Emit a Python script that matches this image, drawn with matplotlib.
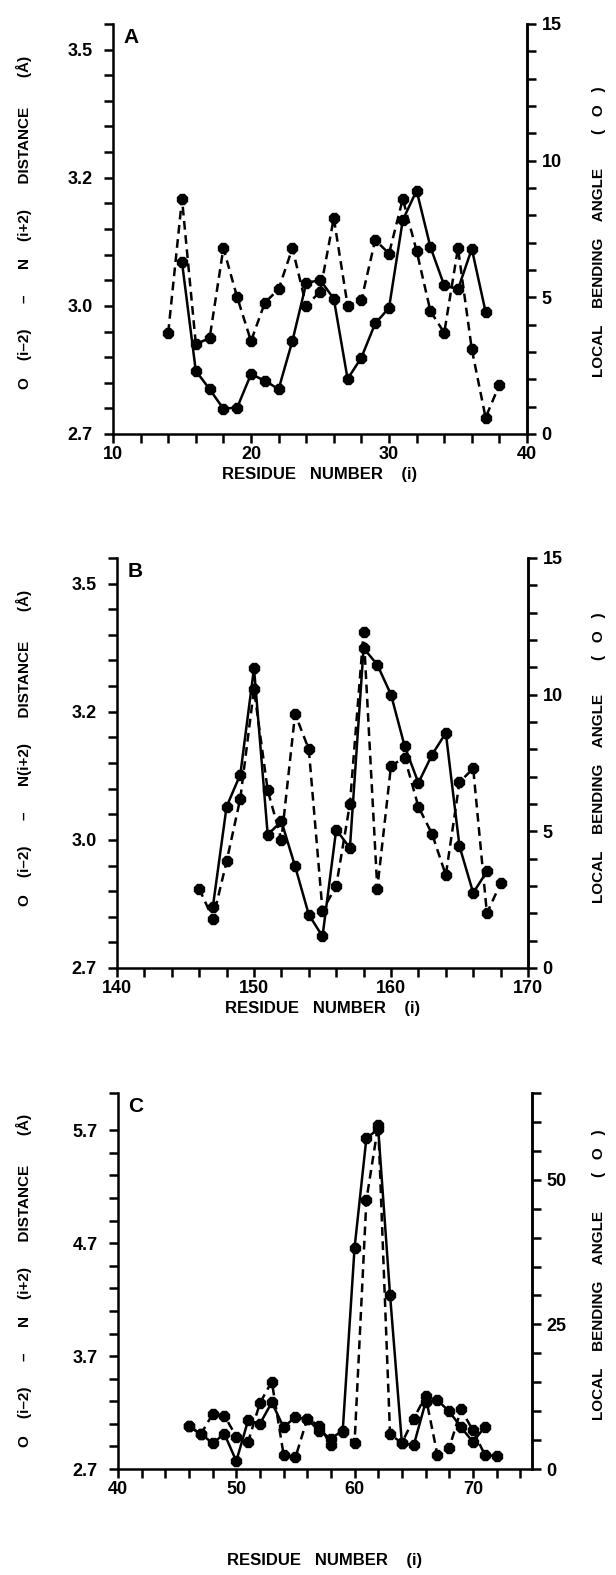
import numpy as np
import matplotlib
matplotlib.use("Agg")
import matplotlib.pyplot as plt

# ---- panel A ----
A_RES_DIST = list(range(15, 38))
A_DIST = [3.068, 2.848, 2.805, 2.759, 2.762, 2.840, 2.825, 2.805, 2.918, 3.035,
          3.041, 3.011, 2.829, 2.879, 2.959, 2.995, 3.134, 3.180, 3.092, 3.032,
          3.026, 3.089, 2.986]
A_RES_ANGLE = list(range(14, 39))
A_ANGLE = [3.7, 8.6, 3.3, 3.5, 6.8, 5.0, 3.4, 4.8, 5.3, 6.8, 4.7, 5.2, 7.9,
           4.7, 4.9, 7.1, 6.6, 8.6, 6.7, 4.5, 3.7, 6.8, 3.1, 0.6, 1.8]

# ---- panel B ----
B_RES_DIST = list(range(147, 168))
B_DIST = [2.844, 3.052, 3.102, 3.302, 3.008, 3.029, 2.938, 2.825, 2.774, 3.016,
          2.981, 3.349, 3.310, 3.240, 3.146, 3.089, 3.133, 3.167, 2.985, 2.876,
          2.926]
B_RES_ANGLE = list(range(146, 169))
B_ANGLE = [2.9, 1.8, 3.9, 6.2, 10.2, 6.5, 4.7, 9.3, 8.0, 2.1, 3.0, 6.0, 12.3,
           2.9, 7.4, 7.7, 5.9, 4.9, 3.4, 6.8, 7.3, 2.0, 3.1]

# ---- panel C ----
C_RES_DIST = list(range(46, 72))
C_DIST = [3.08, 3.01, 2.93, 3.01, 2.77, 3.13, 3.10, 3.29, 3.07, 3.16, 3.14,
          3.04, 2.97, 3.04, 4.66, 5.63, 5.71, 4.24, 2.93, 2.91, 3.29, 3.31,
          3.21, 3.07, 2.94, 3.07]
C_RES_ANGLE = list(range(46, 73))
C_ANGLE = [7.4, 6.0, 9.5, 9.2, 5.6, 4.7, 11.4, 15.1, 2.5, 2.0, 8.7, 7.5, 4.2,
           6.4, 4.5, 46.5, 59.5, 6.0, 4.5, 8.7, 12.6, 2.5, 3.6, 10.3, 6.7, 2.5,
           2.2]

# axis labels / ticks
AB_DIST_TICKS = [2.7, 3.0, 3.2, 3.5]
C_DIST_TICKS = [2.7, 3.7, 4.7, 5.7]
AB_ANGLE_TICKS = [0, 5, 10, 15]
C_ANGLE_TICKS = [0, 25, 50]
A_RES_TICKS = [10, 20, 30, 40]
B_RES_TICKS = [140, 150, 160, 170]
C_RES_TICKS = [40, 50, 60, 70]

# the A/B distance axis in the original is not linear: labels sit 5 ticks apart
KNOT_VAL = [2.4, 2.7, 3.0, 3.2, 3.5, 3.8]
KNOT_POS = [-5, 0, 5, 10, 15, 20]


def fwd(v):
    return np.interp(v, KNOT_VAL, KNOT_POS)


def inv(p):
    return np.interp(p, KNOT_POS, KNOT_VAL)


FONT = ["Liberation Sans", "DejaVu Sans"]
LW = 1.8
MS = 7.5
TICK = dict(direction="out", length=6.5, width=LW, labelsize=13)

plt.rcParams["font.family"] = FONT
plt.rcParams["font.weight"] = "bold"
plt.rcParams["axes.labelweight"] = "bold"

W, H = 616, 1575
fig = plt.figure(figsize=(W / 100, H / 100), dpi=100)


def px_axes(left, top, right, bottom):
    return fig.add_axes([left / W, 1 - bottom / H, (right - left) / W, (bottom - top) / H])


def panel(box, letter, res_d, dist, res_a, ang, xlim, xticks, xminor,
          dlim, dticks, dminor, alim, aticks, aminor, nonlinear, xlabelpad):
    ax = px_axes(*box)
    ax2 = ax.twinx()
    if nonlinear:
        ax.set_yscale("function", functions=(fwd, inv))

    ax.plot(res_d, dist, "-", color="black", lw=LW, marker="8", ms=MS)
    ax2.plot(res_a, ang, color="black", lw=LW, ls=(0, (3.5, 2.2)),
             marker="8", ms=MS)

    ax.set_xlim(*xlim)
    ax.set_ylim(*dlim)
    ax2.set_ylim(*alim)

    ax.set_xticks(xticks)
    ax.set_xticks(xminor, minor=True)
    ax.set_yticks(dticks)
    ax.set_yticklabels([f"{t:.1f}" for t in dticks])
    ax.set_yticks(dminor, minor=True)
    ax2.set_yticks(aticks)
    ax2.set_yticks(aminor, minor=True)

    for a in (ax, ax2):
        a.spines["top"].set_visible(False)
        for s in a.spines.values():
            s.set_linewidth(LW)
        a.tick_params(which="both", **TICK)
    ax2.spines["left"].set_visible(False)
    ax2.spines["bottom"].set_visible(False)
    ax.tick_params(axis="y", pad=8)
    ax.tick_params(axis="x", pad=2)
    ax2.tick_params(axis="y", pad=4)

    ax.set_xlabel("RESIDUE   NUMBER    (i)", fontsize=12, fontweight="bold",
                  labelpad=xlabelpad)
    ax.text(0.025, 0.99, letter, transform=ax.transAxes, ha="left", va="top",
            fontsize=15, fontweight="bold")
    return ax


res_minor = lambda lo, hi: list(range(lo, hi + 1, 2))

# A
panel((113, 24, 527, 434), "A", A_RES_DIST, A_DIST, A_RES_ANGLE, A_ANGLE,
      (10, 40), A_RES_TICKS, res_minor(10, 40),
      (2.7, inv(16)), AB_DIST_TICKS, list(inv(np.arange(17))),
      (0, 15), AB_ANGLE_TICKS, list(range(16)), True, 3)
# B
panel((117, 558, 528, 968), "B", B_RES_DIST, B_DIST, B_RES_ANGLE, B_ANGLE,
      (140, 170), B_RES_TICKS, res_minor(140, 170),
      (2.7, inv(16)), AB_DIST_TICKS, list(inv(np.arange(17))),
      (0, 15), AB_ANGLE_TICKS, list(range(16)), True, 3)
# C
panel((118, 1093, 532, 1469), "C", C_RES_DIST, C_DIST, C_RES_ANGLE, C_ANGLE,
      (40, 75), C_RES_TICKS, res_minor(40, 74),
      (2.7, 6.03), C_DIST_TICKS, list(np.arange(2.7, 5.8, 0.2)) + [6.03],
      (0, 65), C_ANGLE_TICKS, list(range(0, 66, 5)), False, 40)

# y labels
LEFT_AB = "O    (i\u20132)      \u2013      N    (i+2)      DISTANCE       (\u00c5)"
LEFT_B = "O    (i\u20132)      \u2013      N(i+2)      DISTANCE       (\u00c5)"
RIGHT = "LOCAL    BENDING    ANGLE        (   O   )"
for txt, y in [(LEFT_AB, 222), (LEFT_B, 748), (LEFT_AB, 1280)]:
    fig.text(24 / W, 1 - y / H, txt, rotation=90, ha="center", va="center",
             fontsize=11, fontweight="bold")
for y in [232, 758, 1275]:
    fig.text(599 / W, 1 - y / H, RIGHT, rotation=90, ha="center", va="center",
             fontsize=11, fontweight="bold")

fig.savefig("out.png", dpi=100)
